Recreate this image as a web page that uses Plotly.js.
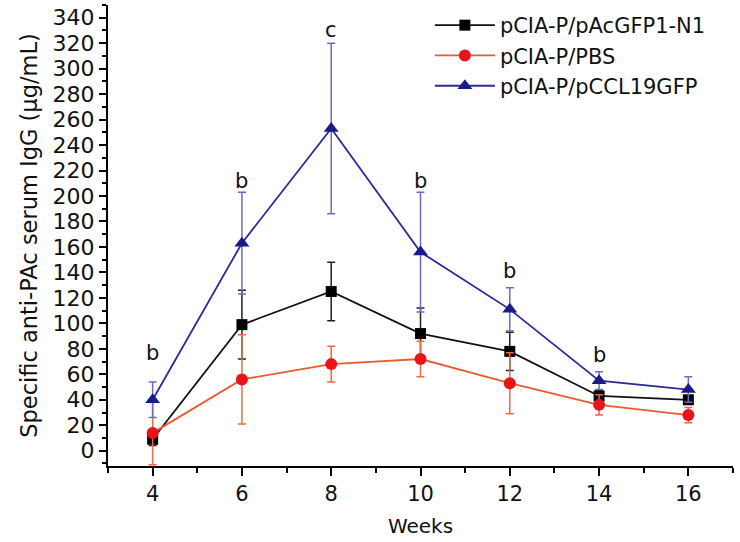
<!DOCTYPE html>
<html>
<head>
<meta charset="utf-8">
<script src="https://cdn.plot.ly/plotly-3.0.1.min.js"></script>
<style>html,body{margin:0;padding:0;background:#fff;}#chart{width:740px;height:542px;}</style>
</head>
<body>
<div id="chart"></div>
<script>
const weeks = [4, 6, 8, 10, 12, 14, 16];
const seriesNames = ["pCIA-P/pAcGFP1-N1", "pCIA-P/PBS", "pCIA-P/pCCL19GFP"];
const acgfpMean = [9, 99, 125, 92, 78, 43, 40];
const acgfpErr  = [5, 27, 23, 20, 15, 4, 3];
const pbsMean   = [14, 56, 68, 72, 53, 36, 28];
const pbsErr    = [25, 35, 14, 14, 24, 8, 6];
const ccl19Mean = [40, 163, 253, 156, 111, 55, 48];
const ccl19Err  = [14, 40, 67, 47, 17, 7, 10];
const sigWeeks  = [4, 6, 8, 10, 12, 14];
const sigLabels = ["b", "b", "c", "b", "b", "b"];
const sigY      = [77, 212, 330, 212, 141, 75];
const yTicks = [0,20,40,60,80,100,120,140,160,180,200,220,240,260,280,300,320,340];
const xTicks = [4, 6, 8, 10, 12, 14, 16];

const FONT = "DejaVu Sans, Liberation Sans, Arial, sans-serif";

function trace(name, y, err, lineColor, markerColor, errColor, symbol, msize) {
  return {
    x: weeks, y: y, name: name, type: "scatter", mode: "lines+markers",
    line: {color: lineColor, width: 1.8},
    marker: {symbol: symbol, size: msize, color: markerColor},
    error_y: {type: "data", array: err, visible: true, color: errColor, thickness: 1.5, width: 4}
  };
}

const data = [
  trace(seriesNames[0], acgfpMean, acgfpErr, "#111111", "#000000", "#222222", "square", 11),
  trace(seriesNames[1], pbsMean, pbsErr, "#ec5a32", "#e8131b", "#ee6a40", "circle", 12),
  trace(seriesNames[2], ccl19Mean, ccl19Err, "#2b2b96", "#1a1a8a", "#6c6cbc", "triangle-up", 13)
];

const annotations = sigWeeks.map((w, i) => ({
  x: w, y: sigY[i], text: sigLabels[i], showarrow: false,
  font: {family: FONT, size: 21, color: "#111"}
}));

const layout = {
  width: 740, height: 542,
  margin: {l: 108, r: 7, t: 5, b: 76},
  paper_bgcolor: "#fff", plot_bgcolor: "#fff",
  font: {family: FONT, size: 20, color: "#111"},
  showlegend: true,
  legend: {x: 0.515, y: 1.0, xanchor: "left", yanchor: "top", bgcolor: "rgba(0,0,0,0)",
           font: {family: FONT, size: 21, color: "#111"}, tracegroupgap: 0, itemwidth: 60},
  xaxis: {
    range: [3, 17], tickvals: xTicks, ticktext: xTicks.map(String),
    showgrid: false, zeroline: false, showline: true, linecolor: "#000", linewidth: 2,
    ticks: "outside", ticklen: 8, tickwidth: 2, tickcolor: "#000",
    minor: {dtick: 1, tick0: 3, ticks: "outside", ticklen: 5, tickwidth: 2, tickcolor: "#000"},
    tickfont: {family: FONT, size: 21, color: "#111"},
    title: {text: "Weeks", font: {family: FONT, size: 20, color: "#111"}, standoff: 14}
  },
  yaxis: {
    range: [-12, 350], tickvals: yTicks, ticktext: yTicks.map(String),
    showgrid: false, zeroline: false, showline: true, linecolor: "#000", linewidth: 2,
    ticks: "outside", ticklen: 7, tickwidth: 2, tickcolor: "#000",
    minor: {dtick: 10, tick0: 0, ticks: "outside", ticklen: 4, tickwidth: 2, tickcolor: "#000"},
    tickfont: {family: FONT, size: 22, color: "#111"},
    title: {text: "Specific anti-PAc serum IgG (μg/mL)", font: {family: FONT, size: 22.5, color: "#111"}, standoff: 9}
  },
  annotations: annotations
};

Plotly.newPlot("chart", data, layout, {displayModeBar: false, staticPlot: true});
</script>
</body>
</html>
